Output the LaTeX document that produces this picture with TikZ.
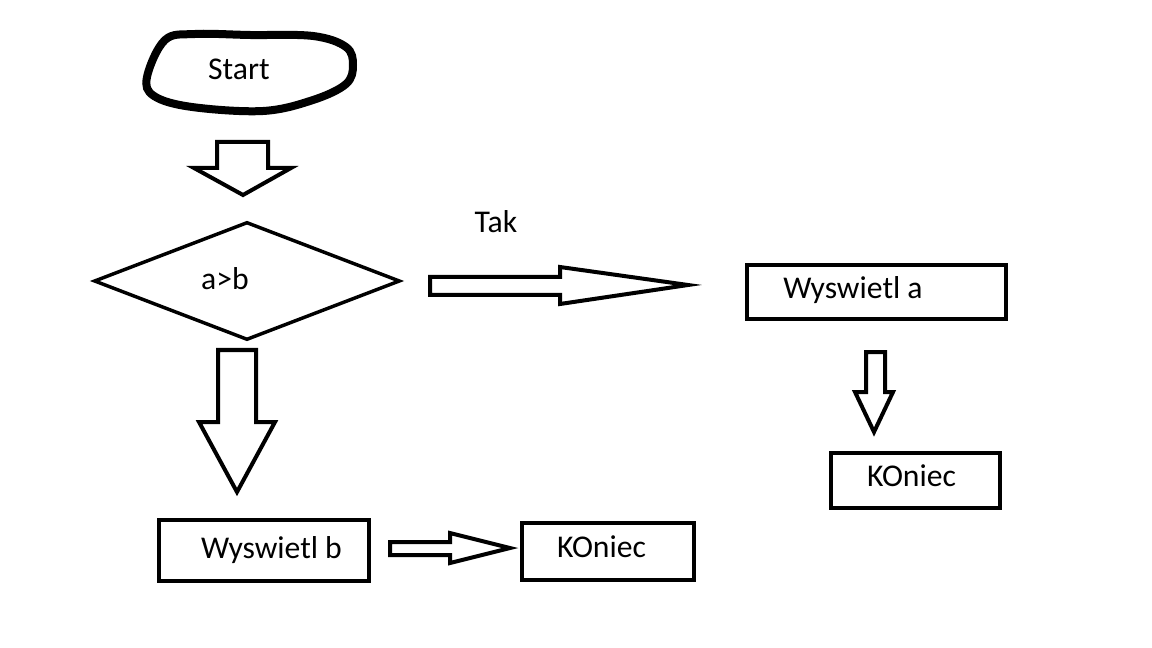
\documentclass[tikz,border=0pt]{standalone}
\usepackage{fontspec}
\setmainfont{Carlito}
\usetikzlibrary{shapes.geometric}
\begin{document}
\begin{tikzpicture}[x=0.75pt,y=-0.75pt,
		every node/.style={font=\fontsize{23.75pt}{28pt}\selectfont},
		box/.style={draw=black,line width=3pt,inner sep=0pt},
		decision/.style={draw=black,line width=2.6pt,shape=diamond,inner sep=0pt,minimum width=229.5pt,minimum height=88.5pt},
		blockarrow/.style={draw=black,line width=3pt,line join=miter}]
	\useasboundingbox (0,0) rectangle (1152,648);
	
	% start terminal, drawn by hand
	\draw[black,line width=6pt] plot[smooth cycle,tension=0.6] coordinates {(147,77) (165,40) (195,34) (250,35) (313,36) (346,47) (353,65) (346,84) (313,100) (263,111) (192,107) (154,96)};
	\node (start) at (239,69) {Start};
	
	\node[decision] (cond) at (247,281) {};
	\node (condtext) at (225,279) {a>b};
	\node (tak) at (496,222) {Tak};
	
	\node[box,minimum width=194.25pt,minimum height=40.5pt] (showa) at (876.5,292) {};
	\node (showatext) at (853,290) {Wyswietl a};
	\node[box,minimum width=126.75pt,minimum height=41.25pt] (enda) at (915.5,480.5) {};
	\node (endatext) at (911.5,476) {KOniec};
	\node[box,minimum width=157.5pt,minimum height=45.75pt] (showb) at (264,550.5) {};
	\node (showbtext) at (271.5,550) {Wyswietl b};
	\node[box,minimum width=129pt,minimum height=42.75pt] (endb) at (608,551.5) {};
	\node (endbtext) at (601.5,546.5) {KOniec};
	
	% block arrows
	\draw[blockarrow] (217,142) -- (268,142) -- (268,168) -- (291,168) -- (243,195) -- (194,168) -- (217,168) -- cycle;
	\draw[blockarrow] (430,277) -- (560,277) -- (560,267) -- (688,285) -- (560,304) -- (560,295) -- (430,295) -- cycle;
	\draw[blockarrow] (218,350) -- (256,350) -- (256,422) -- (275,422) -- (237,492) -- (199,422) -- (218,422) -- cycle;
	\draw[blockarrow] (866,352) -- (885,352) -- (885,392) -- (893,392) -- (874,432) -- (855,392) -- (866,392) -- cycle;
	\draw[blockarrow] (390,542) -- (450,542) -- (450,533) -- (510,548) -- (450,563) -- (450,555) -- (390,555) -- cycle;
\end{tikzpicture}
\end{document}
